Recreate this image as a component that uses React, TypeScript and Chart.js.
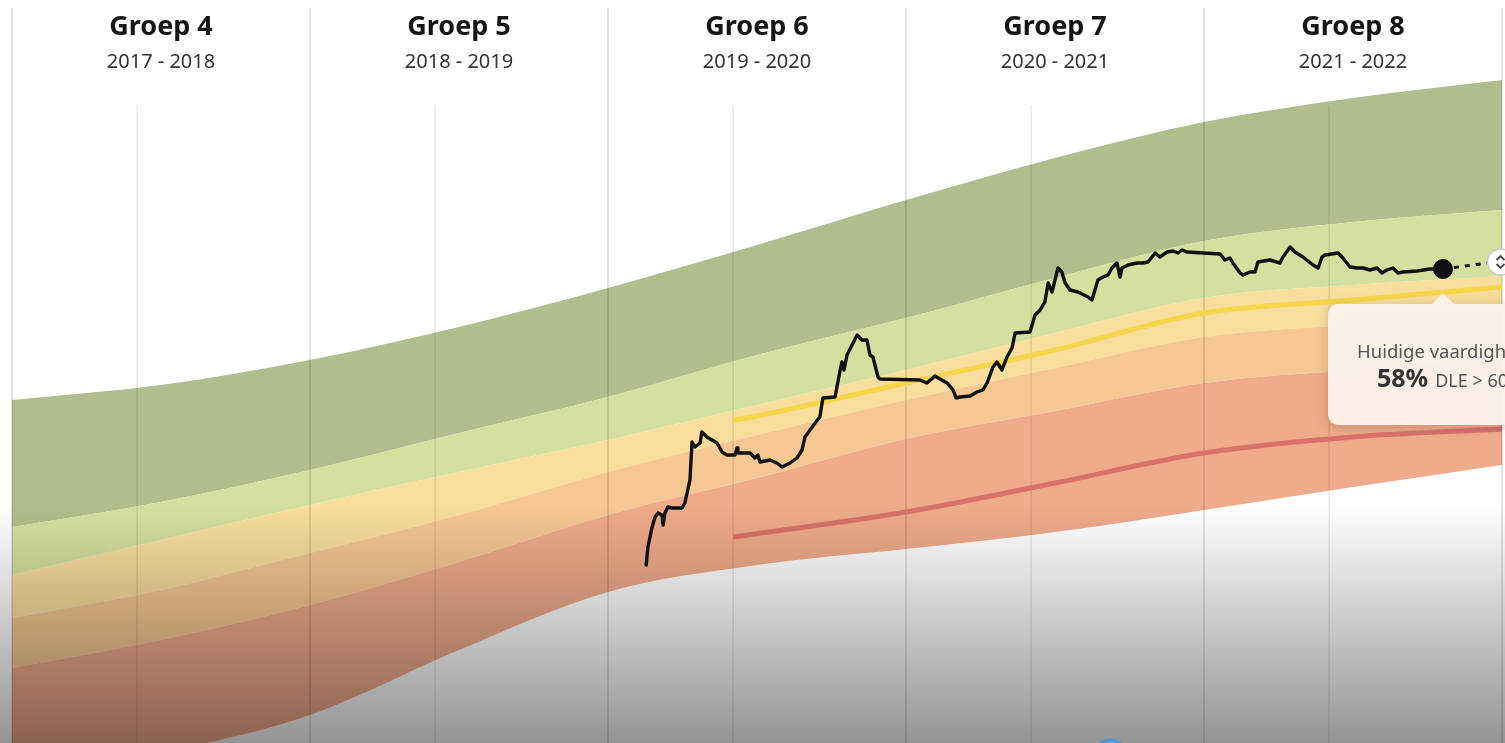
import { useEffect, useRef } from "react";
import { Chart, registerables } from "chart.js";

Chart.register(...registerables);

// ---- data -------------------------------------------------------------
const groups = ["Groep 4", "Groep 5", "Groep 6", "Groep 7", "Groep 8"];
const schoolYears = ["2017 - 2018", "2018 - 2019", "2019 - 2020", "2020 - 2021", "2021 - 2022"];
const midYearOffset = 0.42; // January within each school year

// band boundaries (x = school years since start of Groep 4, y = skill score)
const bandT = [0, 0.5, 1, 1.5, 2, 2.5, 3, 3.5, 4, 4.5, 5];
const bandTop = [70, 73, 78, 84.6, 92.4, 101, 110, 118.4, 125.6, 130.4, 134];
const bandHighLow = [44.6, 49.6, 56, 63.4, 70.6, 79, 86.4, 94.4, 101.8, 105.6, 108];
const bandGoodLow = [35, 42, 49, 55.6, 62, 69, 76, 83.4, 90.4, 93, 94.8];
const bandMidLow = [26.4, 32, 39.4, 47, 55.6, 63, 70, 76.4, 82.6, 85, 86.4];
const bandFairLow = [16.4, 22, 29, 37.6, 47, 54.4, 62.2, 67.8, 73.4, 76, 78];
const bandLowBottom = [-10, -1, 7, 20, 31.6, 37, 40.2, 43.6, 48, 52.6, 57];

const refT = [2.42, 2.5, 3, 3.5, 4, 4.5, 5];
const medianLine = [66, 66.8, 73.4, 80, 87.4, 90, 92.6];
const lowRefT = [2.42, 3, 3.5, 4, 4.5, 5];
const lowLine = [42.6, 47.6, 53.4, 59.4, 62.6, 64.2];

const skillT = [
  2.128, 2.134, 2.148, 2.158, 2.168, 2.181, 2.185, 2.191, 2.201, 2.215, 2.248, 2.258, 2.275, 2.282,
  2.292, 2.309, 2.315, 2.332, 2.366, 2.383, 2.399, 2.426, 2.433, 2.436, 2.477, 2.493, 2.503, 2.51,
  2.544, 2.567, 2.584, 2.611, 2.634, 2.651, 2.661, 2.678, 2.695, 2.711, 2.721, 2.762, 2.779, 2.785,
  2.792, 2.802, 2.819, 2.836, 2.852, 2.869, 2.879, 2.889, 2.906, 2.913, 3.047, 3.07, 3.097, 3.114,
  3.138, 3.158, 3.168, 3.181, 3.215, 3.238, 3.258, 3.272, 3.292, 3.305, 3.322, 3.339, 3.356, 3.366,
  3.416, 3.433, 3.45, 3.466, 3.477, 3.49, 3.51, 3.523, 3.534, 3.55, 3.577, 3.611, 3.624, 3.644,
  3.661, 3.678, 3.691, 3.708, 3.718, 3.725, 3.745, 3.775, 3.795, 3.812, 3.836, 3.852, 3.876, 3.896,
  3.913, 3.926, 3.943, 4.054, 4.07, 4.087, 4.097, 4.121, 4.131, 4.154, 4.171, 4.181, 4.221, 4.255,
  4.265, 4.289, 4.305, 4.332, 4.366, 4.383, 4.396, 4.406, 4.45, 4.466, 4.49, 4.513, 4.534, 4.557,
  4.581, 4.597, 4.614, 4.634, 4.651, 4.668, 4.715, 4.758, 4.802,
];
const skillV = [
  37, 40.6, 44.6, 46.6, 47.4, 47, 45, 47.4, 48.6, 48.4, 48.4, 49.4, 54, 61.6,
  60.6, 61.4, 63.6, 62.6, 61.4, 59.6, 59, 59, 60.4, 59.4, 59.4, 58.4, 59, 57.6,
  58, 57.4, 56.6, 57.4, 58.4, 60, 62.6, 64, 65.4, 66.6, 70.4, 70.6, 76, 77.6,
  76, 79, 81, 83, 82, 82, 79, 78.6, 74.6, 74.2, 74, 73.4, 74.8, 74.2,
  73.4, 72, 70.4, 70.6, 70.8, 71.6, 72, 73.4, 76.6, 77.6, 76, 78.6, 80.4, 83.4,
  83.6, 87, 88, 89.6, 93.4, 91.6, 96.4, 95.6, 93.4, 92, 91.6, 90.6, 90, 94,
  94.6, 95, 96.4, 97.4, 94.6, 96.4, 97, 97.4, 97.4, 97.6, 99.4, 98.6, 99.6, 99.8,
  99.4, 100, 99.6, 99.2, 98, 98.4, 97.4, 95.4, 95, 95.6, 95.6, 97.6, 98, 97.4,
  98.6, 100.6, 99.6, 98.6, 97, 96.4, 98.6, 99, 99.4, 98.4, 96.6, 96.4, 96.4, 96,
  96.4, 95.4, 96, 96.4, 95.4, 95.6, 95.8, 96.2, 96.2,
];
const forecastT = [4.802, 4.977];
const forecastV = [96.2, 97.6];
const currentT = 4.802;
const currentV = 96.2;
const handleT = 4.995;
const handleV = 97.6;
const tooltipTitle = "Huidige vaardigheid";
const tooltipPct = "58%";
const tooltipDle = "DLE > 60";

// ---- helpers ------------------------------------------------------------
const pts = (xs: number[], ys: number[]) => xs.map((x, i) => ({ x, y: ys[i] }));

const FONT = "'Noto Sans', 'Open Sans', sans-serif";
const W = 1505;
const H = 743;

const band = (data: number[], color: string | false, order: number) => ({
  type: "line" as const,
  data: pts(bandT, data),
  borderWidth: 0,
  pointRadius: 0,
  backgroundColor: color || "transparent",
  fill: color ? "-1" : false,
  cubicInterpolationMode: "monotone" as const,
  order,
});

export default function App() {
  const canvasRef = useRef<HTMLCanvasElement | null>(null);

  useEffect(() => {
    document.body.style.margin = "0";
    document.body.style.overflow = "hidden";
    const canvas = canvasRef.current;
    if (!canvas) return;

    const gridPlugin = {
      id: "schoolGrid",
      afterDatasetDraw(chart: any, args: any) {
        if (args.index !== 5) return;
        const ctx = chart.ctx;
        const xs = chart.scales.x;
        const h = chart.height;
        ctx.save();
        ctx.strokeStyle = "rgba(0,0,0,0.11)";
        ctx.lineWidth = 2;
        for (let i = 0; i <= groups.length; i++) {
          const px = xs.getPixelForValue(i);
          ctx.beginPath();
          ctx.moveTo(px, 8);
          ctx.lineTo(px, h);
          ctx.stroke();
        }
        ctx.lineWidth = 1.5;
        ctx.strokeStyle = "rgba(0,0,0,0.09)";
        for (let i = 0; i < groups.length; i++) {
          const px = xs.getPixelForValue(i + midYearOffset);
          ctx.beginPath();
          ctx.moveTo(px, 105);
          ctx.lineTo(px, h);
          ctx.stroke();
        }
        ctx.restore();
      },
    };

    const overlayPlugin = {
      id: "overlay",
      afterDraw(chart: any) {
        const ctx = chart.ctx;
        const xs = chart.scales.x;
        const ys = chart.scales.y;
        const w = chart.width;
        const h = chart.height;
        ctx.save();
        // headers
        ctx.textAlign = "center";
        groups.forEach((g, i) => {
          const cx = xs.getPixelForValue(i + 0.5);
          ctx.fillStyle = "#151515";
          ctx.font = `bold 27px ${FONT}`;
          ctx.fillText(g, cx, 35);
          ctx.fillStyle = "#333";
          ctx.font = `20px ${FONT}`;
          ctx.fillText(schoolYears[i], cx, 68);
        });

        // bottom shading
        const grad = ctx.createLinearGradient(0, 505, 0, h);
        grad.addColorStop(0, "rgba(0,0,0,0)");
        grad.addColorStop(1, "rgba(0,0,0,0.42)");
        ctx.fillStyle = grad;
        ctx.fillRect(0, 505, w, h - 505);

        // small player indicator at the bottom
        ctx.strokeStyle = "rgba(70,150,225,0.9)";
        ctx.lineWidth = 3;
        ctx.beginPath();
        ctx.arc(xs.getPixelForValue(3.685), h + 12, 15, Math.PI * 1.1, Math.PI * 1.9);
        ctx.stroke();

        // tooltip
        const px = xs.getPixelForValue(currentT);
        const py = ys.getPixelForValue(currentV);
        const left = px - 115;
        const top = py + 35;
        const bottom = py + 156;
        ctx.save();
        ctx.shadowColor = "rgba(0,0,0,0.18)";
        ctx.shadowBlur = 12;
        ctx.shadowOffsetY = 2;
        ctx.fillStyle = "rgba(253,242,232,0.96)";
        ctx.beginPath();
        ctx.roundRect(left, top, w - left + 40, bottom - top, 10);
        ctx.fill();
        ctx.restore();
        ctx.fillStyle = "rgba(253,242,232,0.96)";
        ctx.beginPath();
        ctx.moveTo(px - 12, top + 1);
        ctx.lineTo(px, top - 11);
        ctx.lineTo(px + 12, top + 1);
        ctx.closePath();
        ctx.fill();

        ctx.textAlign = "left";
        ctx.fillStyle = "#555";
        ctx.font = `18.5px ${FONT}`;
        ctx.fillText(tooltipTitle, left + 29, py + 89);
        ctx.fillStyle = "#333";
        ctx.font = `bold 25px ${FONT}`;
        ctx.fillText(tooltipPct, left + 49, py + 118);
        const pw = ctx.measureText(tooltipPct).width;
        ctx.fillStyle = "#555";
        ctx.font = `18px ${FONT}`;
        ctx.fillText(tooltipDle, left + 49 + pw + 7, py + 118);

        // drag handle
        const hx = xs.getPixelForValue(handleT);
        const hy = ys.getPixelForValue(handleV);
        ctx.fillStyle = "#fff";
        ctx.strokeStyle = "#c9c9c9";
        ctx.lineWidth = 1.5;
        ctx.beginPath();
        ctx.arc(hx, hy, 13, 0, Math.PI * 2);
        ctx.fill();
        ctx.stroke();
        ctx.strokeStyle = "#444";
        ctx.lineWidth = 1.8;
        ctx.beginPath();
        ctx.moveTo(hx - 4, hy - 2);
        ctx.lineTo(hx, hy - 6);
        ctx.lineTo(hx + 4, hy - 2);
        ctx.moveTo(hx - 4, hy + 2);
        ctx.lineTo(hx, hy + 6);
        ctx.lineTo(hx + 4, hy + 2);
        ctx.stroke();
        ctx.restore();
      },
    };

    const chart = new Chart(canvas, {
      type: "line",
      data: {
        datasets: [
          band(bandTop, false, 20),
          band(bandHighLow, "#b2bd8d", 19),
          band(bandGoodLow, "#d4e09f", 18),
          band(bandMidLow, "#f8dd9c", 17),
          band(bandFairLow, "#f5c792", 16),
          band(bandLowBottom, "#efab8b", 15),
          {
            data: pts(refT, medianLine),
            borderColor: "#f6d64a",
            borderWidth: 5,
            pointRadius: 0,
            fill: false,
            cubicInterpolationMode: "monotone",
            order: 6,
          },
          {
            data: pts(lowRefT, lowLine),
            borderColor: "#d8716a",
            borderWidth: 5,
            pointRadius: 0,
            fill: false,
            cubicInterpolationMode: "monotone",
            order: 5,
          },
          {
            data: pts(forecastT, forecastV),
            borderColor: "#111",
            borderWidth: 3,
            borderDash: [5, 6],
            pointRadius: 0,
            fill: false,
            order: 3,
          },
          {
            data: pts(skillT, skillV),
            borderColor: "#111",
            borderWidth: 3.4,
            borderJoinStyle: "round",
            borderCapStyle: "round",
            pointRadius: 0,
            fill: false,
            tension: 0,
            order: 2,
          },
          {
            data: [{ x: currentT, y: currentV }],
            borderColor: "#111",
            backgroundColor: "#111",
            pointRadius: 9.5,
            showLine: false,
            fill: false,
            order: 1,
          },
        ] as any,
      },
      options: {
        animation: false,
        responsive: false,
        maintainAspectRatio: false,
        layout: { autoPadding: false, padding: { left: 12, right: 3, top: 0, bottom: 0 } },
        scales: {
          x: { type: "linear", min: 0, max: 5, display: false },
          y: { type: "linear", min: 1.4, max: 150, display: false },
        },
        plugins: {
          legend: { display: false },
          tooltip: { enabled: false },
        },
        events: [],
      },
      plugins: [gridPlugin, overlayPlugin],
    });

    return () => chart.destroy();
  }, []);

  return (
    <div
      style={{
        position: "fixed",
        left: 0,
        top: 0,
        width: W,
        height: H,
        overflow: "hidden",
        background: "#fff",
      }}
    >
      <canvas ref={canvasRef} width={W} height={H} style={{ display: "block", width: W, height: H }} />
    </div>
  );
}
